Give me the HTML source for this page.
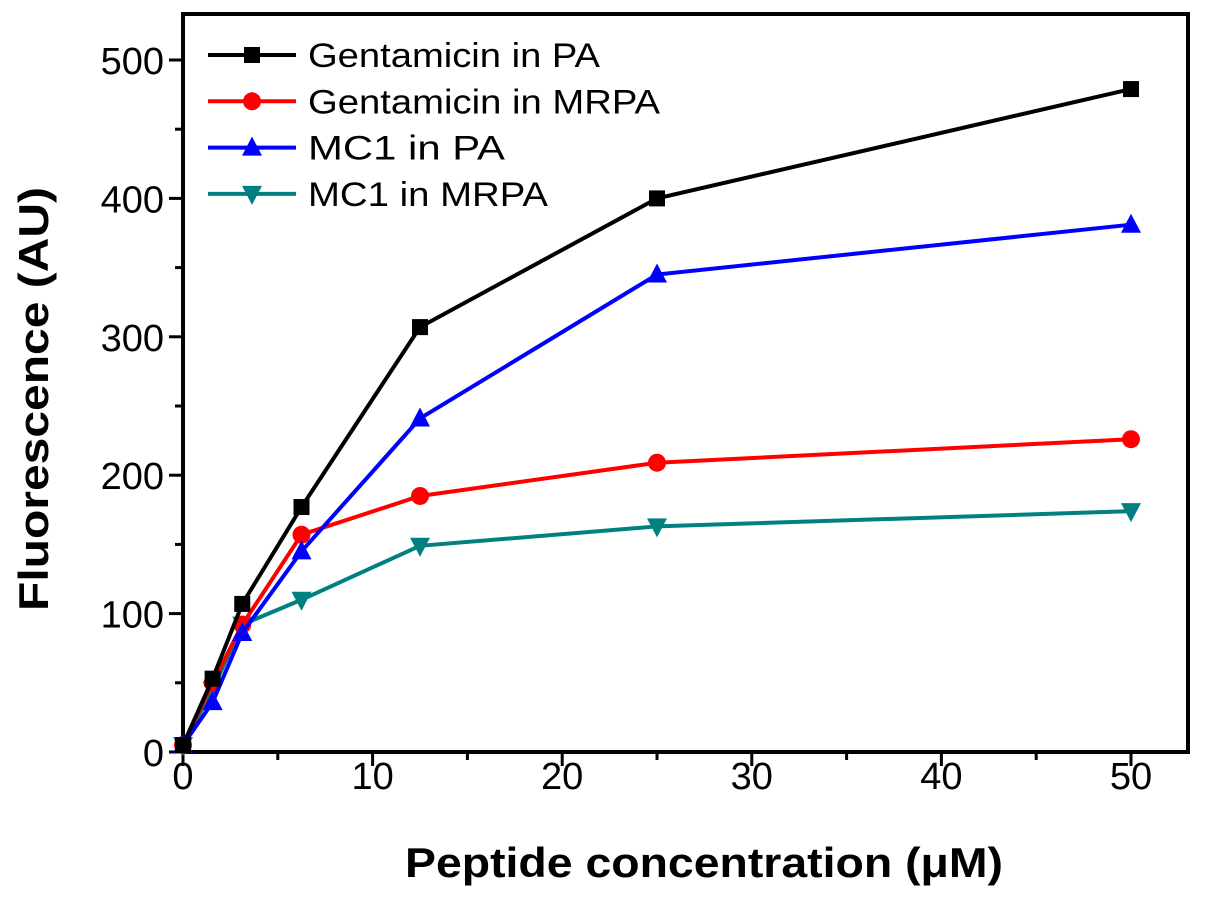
<!DOCTYPE html>
<html><head><meta charset="utf-8"><style>body{margin:0;background:#fff}svg{display:block}text{font-family:"Liberation Sans",Arial,sans-serif}</style></head>
<body>
<svg id="chart" width="1205" height="904" xmlns="http://www.w3.org/2000/svg"></svg>
<script>
const xValues = [0, 1.5625, 3.125, 6.25, 12.5, 25, 50];
const gentPA = [5, 53, 107, 177, 307, 400, 479];
const gentMRPA = [5, 50, 92, 157, 185, 209, 226];
const mc1PA = [5, 36, 86, 145, 241, 345, 381];
const mc1MRPA = [5, 45, 92, 110, 149, 163, 174];
const xTicks = [0, 10, 20, 30, 40, 50];
const yTicks = [0, 100, 200, 300, 400, 500];
const seriesNames = ["Gentamicin in PA", "Gentamicin in MRPA", "MC1 in PA", "MC1 in MRPA"];

const NS = "http://www.w3.org/2000/svg";
const svg = document.getElementById("chart");
const L = 183, R = 1188, T = 14, B = 752;
const X0 = 183, X50 = 1131, Y500 = 60;
const sx = v => X0 + v * (X50 - X0) / 50;
const sy = v => B - v * (B - Y500) / 500;
function el(tag, attrs, parent) {
  const e = document.createElementNS(NS, tag);
  for (const k in attrs) e.setAttribute(k, attrs[k]);
  (parent || svg).appendChild(e);
  return e;
}
const frame = el("rect", {x: L, y: T, width: R - L, height: B - T, fill: "none", stroke: "#000", "stroke-width": 4});



for (let v = 0; v <= 50; v += 5) {
  const major = v % 10 === 0;
  const t = el("line", {x1: sx(v), x2: sx(v), y1: B, y2: B + (major ? 14 : 8), stroke: "#000", "stroke-width": 3});
  
  
}
xTicks.forEach(v => {
  const t = el("text", {x: sx(v), y: 789, "text-anchor": "middle", "font-size": 38});
  t.textContent = v;
  
  
});
for (let v = 0; v <= 500; v += 50) {
  const major = v % 100 === 0;
  const t = el("line", {x1: L - (major ? 14 : 8), x2: L, y1: sy(v), y2: sy(v), stroke: "#000", "stroke-width": 3});
  
  
}
yTicks.forEach(v => {
  const t = el("text", {x: 164, y: sy(v) + 14, "text-anchor": "end", "font-size": 38});
  t.textContent = v;
  
  
});
const xt = el("text", {x: 704, y: 877, "text-anchor": "middle", "font-size": 42, "font-weight": "bold", textLength: 598, lengthAdjust: "spacingAndGlyphs"});
xt.textContent = "Peptide concentration (\u03BCM)";


const yt = el("text", {x: 0, y: 0, "text-anchor": "middle", "font-size": 42, "font-weight": "bold", textLength: 424, lengthAdjust: "spacingAndGlyphs", transform: "translate(48,399) rotate(-90)"});
yt.textContent = "Fluorescence (AU)";



function marker(type, cx, cy, color, g) {
  let m;
  if (type === "square") m = el("rect", {x: cx - 8, y: cy - 8, width: 16, height: 16, fill: color}, g);
  else if (type === "circle") m = el("circle", {cx: cx, cy: cy, r: 9, fill: color}, g);
  else if (type === "up") m = el("polygon", {points: `${cx},${cy-11} ${cx-10},${cy+8} ${cx+10},${cy+8}`, fill: color}, g);
  else m = el("polygon", {points: `${cx},${cy+11} ${cx-10},${cy-8} ${cx+10},${cy-8}`, fill: color}, g);
  return m;
}
const series = [
  {vals: gentPA, color: "#000000", m: "square"},
  {vals: gentMRPA, color: "#ff0000", m: "circle"},
  {vals: mc1PA, color: "#0000ff", m: "up"},
  {vals: mc1MRPA, color: "#008080", m: "down"}
];
const order = [3, 1, 2, 0];
order.forEach(i => {
  const s = series[i];
  const g = el("g", {});
  
  
  const pl = el("polyline", {points: xValues.map((x, j) => sx(x) + "," + sy(s.vals[j])).join(" "), fill: "none", stroke: s.color, "stroke-width": 4}, g);
  
  
  xValues.forEach((x, j) => {
    const mk = marker(s.m, sx(x), sy(s.vals[j]), s.color, g);
    
    
  });
});
const legendWidths = [292, 352, 197, 240];
series.forEach((s, i) => {
  const y = 55 + i * 46.3;
  const g = el("g", {});
  
  
  el("line", {x1: 208, x2: 296, y1: y, y2: y, stroke: s.color, "stroke-width": 4}, g);
  marker(s.m, 252, y, s.color, g);
  const t = el("text", {x: 308, y: y + 12, "font-size": 34, textLength: legendWidths[i], lengthAdjust: "spacingAndGlyphs"}, g);
  t.textContent = seriesNames[i];
});
</script>
</body></html>
